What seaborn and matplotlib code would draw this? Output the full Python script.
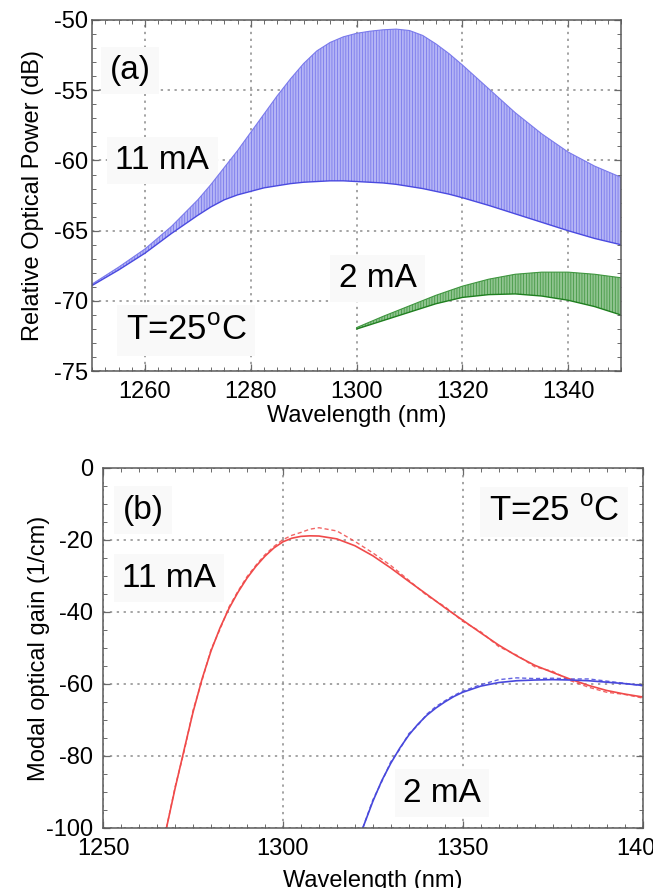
import numpy as np
import pandas as pd
import matplotlib
matplotlib.use("Agg")
import matplotlib.pyplot as plt
import seaborn as sns
from matplotlib.ticker import MultipleLocator

# ---------------- (a) emission spectra: envelope of the mode comb ----------------
wl_11mA = [1250, 1255, 1260, 1265, 1270, 1272.5, 1275, 1277.5, 1280, 1282.5, 1285, 1287.5,
           1290, 1292.5, 1295, 1297.5, 1300, 1302.5, 1305, 1307.5, 1310, 1312.5, 1315,
           1317.5, 1320, 1325, 1330, 1335, 1340, 1345, 1350]
upper_11mA = [-68.8, -67.6, -66.3, -64.7, -62.8, -61.7, -60.5, -59.3, -58.0, -56.7, -55.4, -54.2,
              -53.1, -52.2, -51.6, -51.2, -50.95, -50.8, -50.7, -50.65, -50.75, -51.1, -51.7,
              -52.4, -53.2, -54.9, -56.6, -58.1, -59.4, -60.4, -61.2]
lower_11mA = [-68.9, -67.8, -66.6, -65.2, -63.9, -63.3, -62.8, -62.45, -62.2, -61.95, -61.8, -61.65,
              -61.55, -61.5, -61.45, -61.45, -61.5, -61.55, -61.6, -61.7, -61.85, -62.0, -62.2,
              -62.4, -62.65, -63.2, -63.8, -64.4, -65.0, -65.55, -66.0]

wl_2mA = [1300, 1305, 1310, 1315, 1320, 1325, 1330, 1335, 1340, 1345, 1350]
upper_2mA = [-71.9, -71.1, -70.35, -69.6, -68.95, -68.45, -68.1, -67.95, -67.95, -68.1, -68.35]
lower_2mA = [-72.0, -71.4, -70.8, -70.2, -69.75, -69.55, -69.5, -69.65, -69.95, -70.4, -71.0]

# ---------------- (b) modal gain: fit (solid) and measurement (dashed) ----------------
wl_g11 = [1267.6, 1270, 1272.5, 1275, 1277.5, 1280, 1282.5, 1285, 1287.5, 1290, 1292.5,
          1295, 1297.5, 1300, 1302.5, 1305, 1307.5, 1310, 1315, 1320, 1325, 1330, 1335,
          1340, 1345, 1350, 1355, 1360, 1365, 1370, 1375, 1380, 1385, 1390, 1395, 1400]
fit_g11 = [-100, -89.0, -78.3, -67.8, -58.6, -50.8, -44.4, -39.0, -34.5, -30.6, -27.3,
           -24.5, -22.2, -20.5, -19.5, -19.0, -18.85, -18.9, -19.7, -21.6, -24.4, -27.8, -31.5,
           -35.1, -38.8, -42.3, -45.8, -49.2, -52.2, -54.8, -56.8, -58.7, -60.4, -61.8, -62.8, -63.6]
meas_g11 = [-100, -88.6, -78.8, -67.3, -59.0, -50.4, -44.8, -38.6, -34.2, -30.2, -27.0,
            -24.1, -21.8, -19.9, -18.7, -17.9, -17.0, -16.6, -17.5, -20.4, -23.6, -27.1, -31.2,
            -35.4, -38.5, -42.6, -45.5, -49.6, -52.0, -55.2, -56.5, -59.1, -60.9, -62.3, -62.9, -63.9]

wl_g2 = [1322.2, 1325, 1327.5, 1330, 1332.5, 1335, 1337.5, 1340, 1342.5, 1345, 1347.5,
         1350, 1355, 1360, 1365, 1370, 1375, 1380, 1385, 1390, 1395, 1400]
fit_g2 = [-100, -92.6, -86.8, -82.0, -77.8, -74.2, -71.2, -68.7, -66.7, -65.0, -63.5,
          -62.3, -60.6, -59.6, -59.1, -58.9, -58.8, -58.9, -59.1, -59.5, -59.9, -60.4]
meas_g2 = [-100, -92.2, -87.1, -81.6, -78.1, -73.8, -71.5, -68.4, -66.3, -64.7, -63.2,
           -62.0, -60.2, -58.8, -58.3, -58.5, -58.4, -58.6, -58.6, -59.2, -59.8, -60.5]

sns.set_theme(style="ticks")
plt.rcParams["font.family"] = ["Liberation Sans", "DejaVu Sans"]
plt.rcParams["mathtext.fontset"] = "custom"
plt.rcParams["mathtext.rm"] = "Liberation Sans"
plt.rcParams["axes.unicode_minus"] = False
plt.rcParams["hatch.linewidth"] = 0.5
plt.rcParams["text.color"] = "black"
plt.rcParams["axes.labelcolor"] = "black"

fig = plt.figure(figsize=(6.53, 8.88), dpi=100)
ax_a = fig.add_axes([0.141, 0.582, 0.810, 0.3955])
ax_b = fig.add_axes([0.158, 0.0676, 0.826, 0.4054])


def style_axes(ax, xmaj, xmin, ymaj, ymin, ypad):
    ax.xaxis.set_major_locator(MultipleLocator(xmaj))
    ax.xaxis.set_minor_locator(MultipleLocator(xmin))
    ax.yaxis.set_major_locator(MultipleLocator(ymaj))
    ax.yaxis.set_minor_locator(MultipleLocator(ymin))
    ax.tick_params(which="both", direction="in", top=True, right=True,
                   bottom=True, left=True, color="#6a6a6a", labelcolor="black")
    ax.tick_params(which="major", length=5, width=0.9, labelsize=17)
    ax.tick_params(which="minor", length=3, width=0.7)
    ax.tick_params(axis="x", which="major", pad=7)
    ax.tick_params(axis="y", which="major", pad=ypad)
    for s in ax.spines.values():
        s.set_color("#5a5a5a")
        s.set_linewidth(1.1)
    ax.grid(True, which="major", color="#8c8c8c", linestyle=(0, (1.5, 3)), linewidth=1.1)
    ax.set_axisbelow(True)


box = dict(boxstyle="square,pad=0.25", facecolor="#f9f9f9", edgecolor="none")
label_kw = dict(ha="center", va="center", bbox=box, zorder=1.5)

# ---------------- panel (a) ----------------
ax_a.fill_between(wl_11mA, lower_11mA, upper_11mA, facecolor="#b4b4f5",
                  edgecolor="#7070ea", hatch="|" * 6, linewidth=0, zorder=2)
sns.lineplot(x=wl_11mA, y=upper_11mA, ax=ax_a, color="#7a7aec", lw=0.8, zorder=2.1)
sns.lineplot(x=wl_11mA, y=lower_11mA, ax=ax_a, color="#4a4ae0", lw=1.0, zorder=2.1)

ax_a.fill_between(wl_2mA, lower_2mA, upper_2mA, facecolor="#8fc48f",
                  edgecolor="#3a923a", hatch="|" * 6, linewidth=0, zorder=2)
sns.lineplot(x=wl_2mA, y=upper_2mA, ax=ax_a, color="#3f963f", lw=0.8, zorder=2.1)
sns.lineplot(x=wl_2mA, y=lower_2mA, ax=ax_a, color="#1f7f1f", lw=1.0, zorder=2.1)

ax_a.set_xlim(1250, 1350)
ax_a.set_ylim(-75, -50)
style_axes(ax_a, 20, 2.5, 5, 1, 3)
ax_a.set_xlabel("Wavelength (nm)", fontsize=17)
ax_a.set_ylabel("Relative Optical Power (dB)", fontsize=17)
ax_a.xaxis.set_label_coords(0.5, -0.095)
ax_a.yaxis.set_label_coords(-0.091, 0.5)

ax_a.text(1257.2, -53.6, "(a)", fontsize=24, **label_kw)
ax_a.text(1263.3, -60.0, "11 mA", fontsize=24, **label_kw)
ax_a.text(1304.0, -68.4, "2 mA", fontsize=24, **label_kw)
ax_a.text(1267.8, -72.1, r"T=25$^\mathrm{o}$C", fontsize=25, **label_kw)

# ---------------- panel (b) ----------------
red = "#f04a4a"
blue = "#4848dc"
sns.lineplot(x=wl_g11, y=meas_g11, ax=ax_b, color=red, lw=1.0, linestyle=(0, (3, 2)), alpha=0.85, zorder=2)
sns.lineplot(x=wl_g11, y=fit_g11, ax=ax_b, color=red, lw=1.2, zorder=2.1)
sns.lineplot(x=wl_g2, y=meas_g2, ax=ax_b, color=blue, lw=1.0, linestyle=(0, (3, 2)), alpha=0.85, zorder=2)
sns.lineplot(x=wl_g2, y=fit_g2, ax=ax_b, color=blue, lw=1.2, zorder=2.1)

ax_b.set_xlim(1250, 1400)
ax_b.set_ylim(-100, 0)
style_axes(ax_b, 50, 5, 20, 5, 7)
ax_b.set_xlabel("Wavelength (nm)", fontsize=17)
ax_b.set_ylabel("Modal optical gain (1/cm)", fontsize=17)
ax_b.xaxis.set_label_coords(0.5, -0.118)
ax_b.yaxis.set_label_coords(-0.098, 0.5)

ax_b.text(1261.1, -11.7, "(b)", fontsize=24, **label_kw)
ax_b.text(1268.3, -30.6, "11 mA", fontsize=24, **label_kw)
ax_b.text(1344.2, -90.3, "2 mA", fontsize=24, **label_kw)
ax_b.text(1375.3, -12.2, r"T=25 $^\mathrm{o}$C", fontsize=25, **label_kw)

fig.savefig("out.png", dpi=100)
